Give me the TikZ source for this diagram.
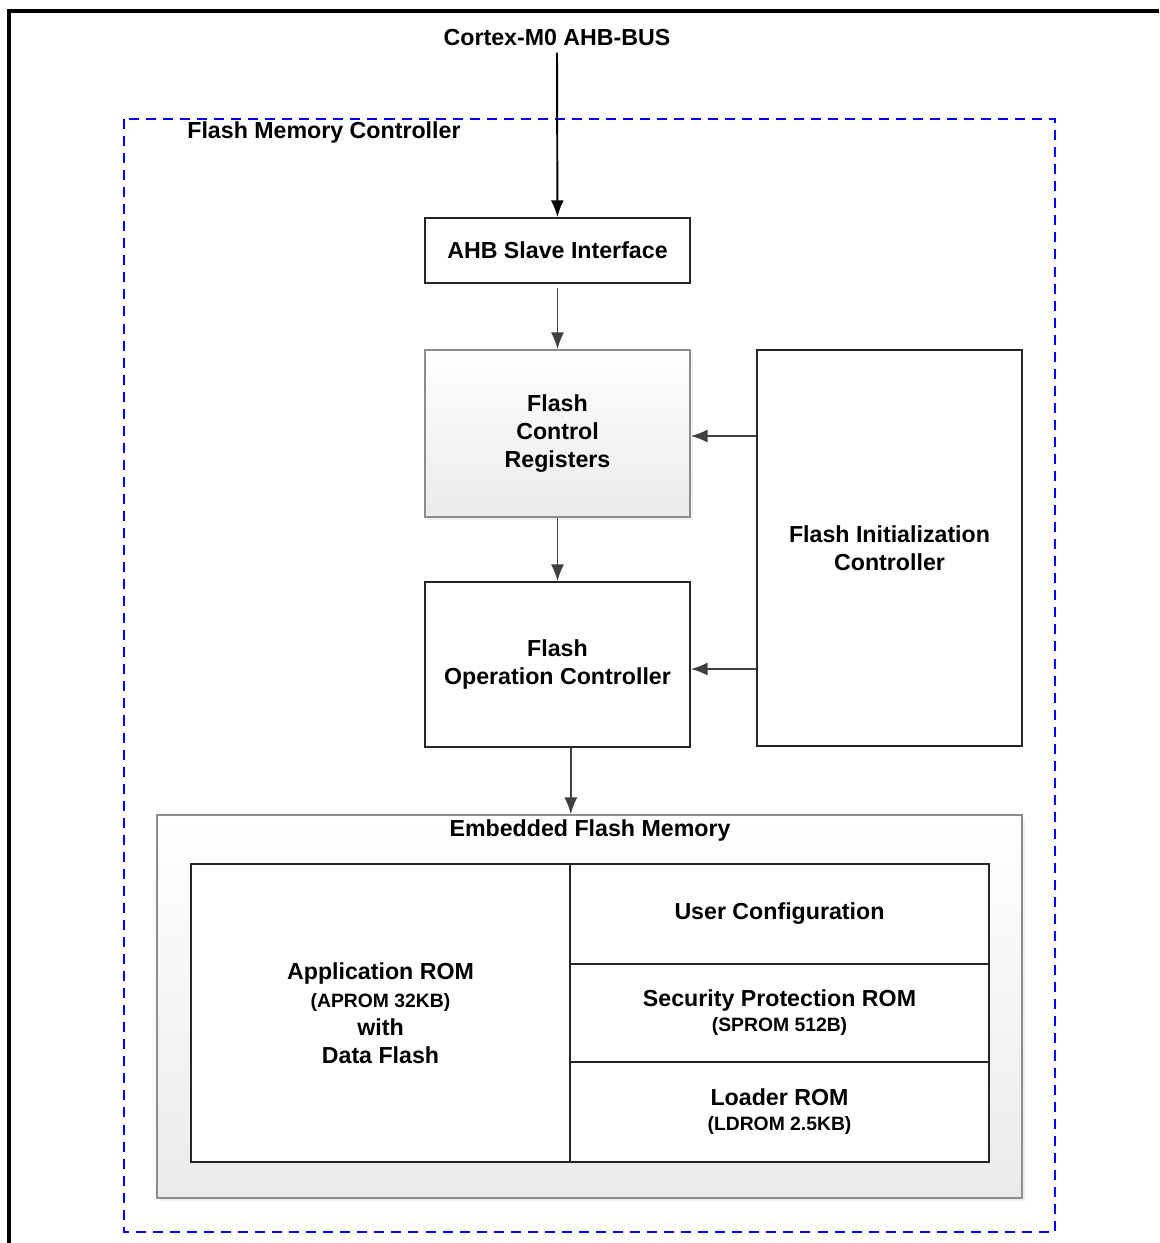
\documentclass[tikz,border=0pt]{standalone}
\usepackage{fontspec}
\setmainfont{Liberation Sans}
\usepackage{tikz}
\usetikzlibrary{arrows.meta,shadows,calc}
\tikzset{>={Latex[length=9.5pt,width=7.4pt]}}
\newcommand{\bigtxt}{\fontsize{13.2}{15.9}\selectfont\bfseries}
\newcommand{\smalltxt}{\fontsize{11}{15.2}\selectfont\bfseries}
\tikzset{
  blk/.style={draw=black!85, line width=1pt, fill=white, inner sep=0pt,
    align=center, font=\bigtxt},
  shadedblk/.style={blk, draw=black!45, top color=white, bottom color=black!8,
    drop shadow={shadow xshift=1.6pt, shadow yshift=-1.6pt, opacity=0.12}},
  link/.style={->, draw=black!75, line width=0.85pt},
  lbl/.style={font=\bigtxt, inner sep=0pt},
}

\begin{document}
\begin{tikzpicture}[x=0.02cm, y=-0.02cm]
  \useasboundingbox (0,0) rectangle (1159,1243);
  % page frame
  \draw[line width=2pt] (9,1243) -- (9,11) -- (1159,11);
  % controller boundary
  \draw[blue, line width=1.1pt, dash pattern=on 5.7pt off 4pt] (124,119) rectangle (1055,1232);
  \node[lbl, anchor=base west] (fmclbl) at (187,139) {Flash Memory Controller};
  \node[lbl, anchor=base] (bus) at (557,46) {Cortex-M0 AHB-BUS};

  \node[blk, minimum width=5.3cm, minimum height=1.3cm] (ahb) at (557.5,250.5) {AHB Slave Interface};
  \node[shadedblk, minimum width=5.3cm, minimum height=3.34cm] (fcr) at (557.5,433.5) {Flash\\Control\\Registers};
  \node[blk, minimum width=5.3cm, minimum height=3.3cm] (foc) at (557.5,664.5) {Flash\\Operation Controller};
  \node[blk, minimum width=5.3cm, minimum height=7.92cm] (fic) at (889.5,548) {Flash Initialization\\Controller};

  % embedded flash
  \node[shadedblk, minimum width=17.3cm, minimum height=7.66cm] (efm) at (589.5,1006.5) {};
  \node[lbl, anchor=base] (efmlbl) at (590,836) {Embedded Flash Memory};
  \node[blk, minimum width=7.58cm, minimum height=5.96cm] (aprom) at (380.5,1013)
    {Application ROM\\\smalltxt(APROM 32KB)\\\bigtxt with\\Data Flash};
  \node[blk, minimum width=8.38cm, minimum height=2cm] (ucfg) at (779.5,914) {User Configuration};
  \node[blk, minimum width=8.38cm, minimum height=1.96cm] (sprom) at (779.5,1013)
    {Security Protection ROM\\[-1.7pt]\smalltxt(SPROM 512B)};
  \node[blk, minimum width=8.38cm, minimum height=2cm] (ldrom) at (779.5,1112)
    {Loader ROM\\[-1.7pt]\smalltxt(LDROM 2.5KB)};

  % connectors
  \draw[->, line width=1.1pt] ($(bus.south)+(0,6)$) -- (ahb);
  \draw[link] ($(ahb.south)+(0,4)$) -- (fcr);
  \draw[link] (fcr) -- (foc);
  \draw[link] ($(fic.west |- fcr.east)+(0,2.5)$) -- ($(fcr.east)+(0,2.5)$);
  \draw[link] ($(fic.west |- foc.east)+(0,4.5)$) -- ($(foc.east)+(0,4.5)$);
  \draw[link] (foc.south -| aprom.east) -- (efm.north -| aprom.east);
\end{tikzpicture}
\end{document}
